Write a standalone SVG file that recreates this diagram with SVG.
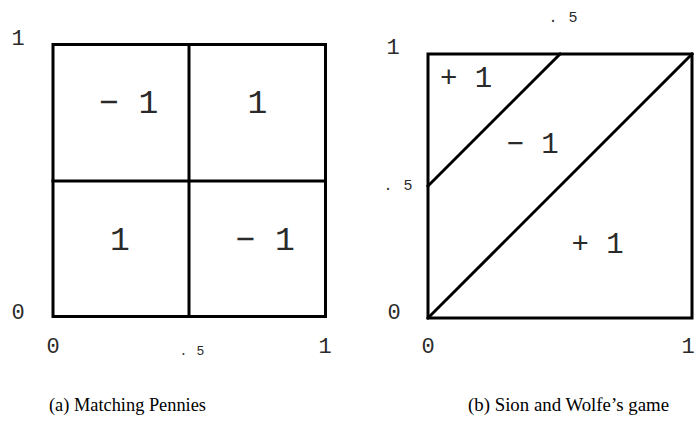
<svg xmlns="http://www.w3.org/2000/svg" width="695" height="421" viewBox="0 0 695 421">
<style>
.ln{stroke:#000;stroke-width:3;fill:none;stroke-linecap:square}
.m{font-family:"Liberation Mono",monospace;fill:#2a2a2a}
.ax{font-size:22px}
.big{font-size:33px}
.mid{font-size:29px}
.cap{font-family:"Liberation Serif",serif;font-size:18px;fill:#000}
</style>
<rect width="695" height="421" fill="#fff"/>
<g id="matching-pennies">
<rect class="ln" x="53" y="44.5" width="272.5" height="272"/>
<line class="ln" x1="189" y1="44.5" x2="189" y2="316.5"/>
<line class="ln" x1="53" y1="181" x2="325.5" y2="181"/>
<text class="m big" x="99" y="113" xml:space="preserve">− 1</text>
<text class="m big" x="257.5" y="113" text-anchor="middle">1</text>
<text class="m big" x="120" y="250" text-anchor="middle">1</text>
<text class="m big" x="235.5" y="250" xml:space="preserve">− 1</text>
<text class="m ax" x="18" y="45" text-anchor="middle">1</text>
<text class="m ax" x="18" y="319" text-anchor="middle">0</text>
<text class="m ax" x="53" y="353" text-anchor="middle">0</text>
<text class="m ax" x="325" y="353" text-anchor="middle">1</text>
<text class="m" x="179.4" y="355" font-size="13" letter-spacing="9.2">.5</text>
<text class="cap" x="49" y="411" textLength="157" lengthAdjust="spacingAndGlyphs">(a) Matching Pennies</text>
</g>
<g id="sion-wolfe">
<rect class="ln" x="428" y="54" width="264" height="264"/>
<line class="ln" x1="428" y1="186" x2="560" y2="54"/>
<line class="ln" x1="428" y1="318" x2="692" y2="54"/>
<text class="m mid" x="440" y="87" xml:space="preserve">+ 1</text>
<text class="m mid" x="506.5" y="153" xml:space="preserve">− 1</text>
<text class="m mid" x="571.5" y="253" xml:space="preserve">+ 1</text>
<text class="m ax" x="393" y="54" text-anchor="middle">1</text>
<text class="m ax" x="394" y="319" text-anchor="middle">0</text>
<text class="m ax" x="428" y="353" text-anchor="middle">0</text>
<text class="m ax" x="688" y="353" text-anchor="middle">1</text>
<text class="m" x="548.5" y="22" font-size="15" letter-spacing="11">.5</text>
<text class="m" x="383.5" y="190" font-size="15" letter-spacing="11">.5</text>
<text class="cap" x="468" y="411" textLength="201" lengthAdjust="spacingAndGlyphs">(b) Sion and Wolfe’s game</text>
</g>
</svg>
